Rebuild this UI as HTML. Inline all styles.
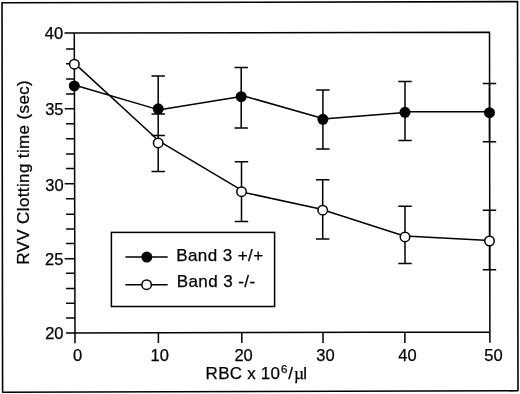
<!DOCTYPE html>
<html><head><meta charset="utf-8"><style>
html,body{margin:0;padding:0;background:#fff;width:520px;height:394px;overflow:hidden}
svg{display:block}
</style></head><body>
<svg width="520" height="394" viewBox="0 0 520 394">
<rect width="520" height="394" fill="#fff"/>
<path d="M2 2.77L517.5 1.6L518 390.8L2.6 392.3Z" fill="none" stroke="#000" stroke-width="1.6" stroke-linejoin="round"/>
<path d="M64.5 33.1L489.5 32.2L489.9 342.7M74.3 33L75.0 343.3M66 332.9L489.9 332.0" fill="none" stroke="#000" stroke-width="1.5"/>
<path d="M66.1 49.1H74.34M66.1 63.7H74.37M66.1 79H74.40M66.1 93.9H74.44M64.7 108.7H74.47M66.1 123.8H74.51M66.1 138.8H74.54M66.1 154.1H74.57M66.1 168.5H74.61M64.7 183.7H74.64M66.1 198.7H74.67M66.1 214.3H74.71M66.1 229.1H74.74M66.1 243.5H74.78M64.7 258.7H74.81M66.1 273.3H74.84M66.1 288.4H74.88M66.1 303.2H74.91M66.1 318.1H74.94" stroke="#000" stroke-width="1.5"/>
<path d="M158.4 332.70V343M241.8 332.53V343M323 332.35V343M404.9 332.18V343" stroke="#000" stroke-width="1.5"/>
<path d="M158.2 75.9V135.6M151.5 75.9h13.4M151.5 135.6h13.4M241.2 67.4V127.9M234.5 67.4h13.4M234.5 127.9h13.4M322.9 90.1V149M316.2 90.1h13.4M316.2 149h13.4M405.0 81.6V140.5M398.3 81.6h13.4M398.3 140.5h13.4M489.5 83.6V141.7M482.8 83.6h13.4M482.8 141.7h13.4M158.2 114.0V171.4M151.5 114.0h13.4M151.5 171.4h13.4M241.5 161.8V221.5M234.8 161.8h13.4M234.8 221.5h13.4M322.7 179.7V239M316.0 179.7h13.4M316.0 239h13.4M405.0 206.2V263.4M398.3 206.2h13.4M398.3 263.4h13.4M489.5 210.2V269.7M482.8 210.2h13.4M482.8 269.7h13.4" fill="none" stroke="#000" stroke-width="1.5"/>
<path d="M74.3 85.03L158.2 109.64M158.2 110.08L241.2 96.52M241.2 95.24L322.9 118.57M322.9 119.1L405.0 112.62M405.0 111.85L489.5 111.85M74.35 63.08L158.2 140.2M158.2 140.6L241.5 190.1M241.5 191.9L322.7 209.6M322.7 209.7L405.0 236.3M405.0 235.95L489.5 240.55" fill="none" stroke="#000" stroke-width="1.5" stroke-linecap="round"/>
<circle cx="74.3" cy="85.9" r="5.5" fill="#000"/>
<circle cx="158.2" cy="108.8" r="5.5" fill="#000"/>
<circle cx="241.2" cy="96.65" r="5.5" fill="#000"/>
<circle cx="322.9" cy="119.35" r="5.5" fill="#000"/>
<circle cx="405.0" cy="112.35" r="5.5" fill="#000"/>
<circle cx="489.5" cy="112.65" r="5.5" fill="#000"/>
<circle cx="74.35" cy="64.2" r="4.75" fill="#fff" stroke="#000" stroke-width="1.5"/>
<circle cx="158.2" cy="142.9" r="4.75" fill="#fff" stroke="#000" stroke-width="1.5"/>
<circle cx="241.5" cy="191.7" r="4.75" fill="#fff" stroke="#000" stroke-width="1.5"/>
<circle cx="322.7" cy="210.2" r="4.75" fill="#fff" stroke="#000" stroke-width="1.5"/>
<circle cx="405.0" cy="236.9" r="4.75" fill="#fff" stroke="#000" stroke-width="1.5"/>
<circle cx="489.5" cy="241.0" r="4.75" fill="#fff" stroke="#000" stroke-width="1.5"/>
<rect x="111.4" y="232.4" width="163.2" height="74.1" fill="none" stroke="#000" stroke-width="1.5"/>
<path d="M125.4 256.9H167.7M125.4 284.7H167.7" stroke="#000" stroke-width="1.5"/>
<circle cx="146.8" cy="257.1" r="5.5" fill="#000"/>
<circle cx="146.6" cy="284.7" r="4.75" fill="#fff" stroke="#000" stroke-width="1.5"/>
<g font-family="'Liberation Sans', Arial, Helvetica, sans-serif" fill="#000" stroke="#000" stroke-width="0.25">
<text x="176.14" y="261" font-size="17" letter-spacing="0.47" word-spacing="-0.15">Band 3 +/+</text>
<text x="176.64" y="287" font-size="17" letter-spacing="0.47" word-spacing="-0.15">Band 3 -/-</text>
<text x="44.76" y="39.00" font-size="16.5">40</text>
<text x="45.16" y="115.00" font-size="16.5">35</text>
<text x="45.28" y="191.00" font-size="16.5">30</text>
<text x="45.06" y="265.00" font-size="16.5">25</text>
<text x="45.19" y="339.00" font-size="16.5">20</text>
<text x="73.01" y="361.00" font-size="16.5">0</text>
<text x="150.52" y="361.00" font-size="16.5">10</text>
<text x="234.44" y="361.00" font-size="16.5">20</text>
<text x="316.23" y="361.00" font-size="16.5">30</text>
<text x="398.36" y="361.00" font-size="16.5">40</text>
<text x="484.22" y="361.00" font-size="16.5">50</text>
<text y="379" font-size="17"><tspan x="205.51" letter-spacing="0.36" word-spacing="-0.35">RBC x 10</tspan><tspan x="281.01" y="373" font-size="11.5">6</tspan><tspan x="288.24" y="379">/</tspan><tspan x="293.9" font-size="17.5" font-family="'Liberation Serif', serif">µ</tspan><tspan x="303.36">l</tspan></text>
<text transform="translate(28.6,264.74) rotate(-90)" font-size="17" letter-spacing="0.37">RVV Clotting time (sec)</text>
</g>
</svg>
</body></html>
